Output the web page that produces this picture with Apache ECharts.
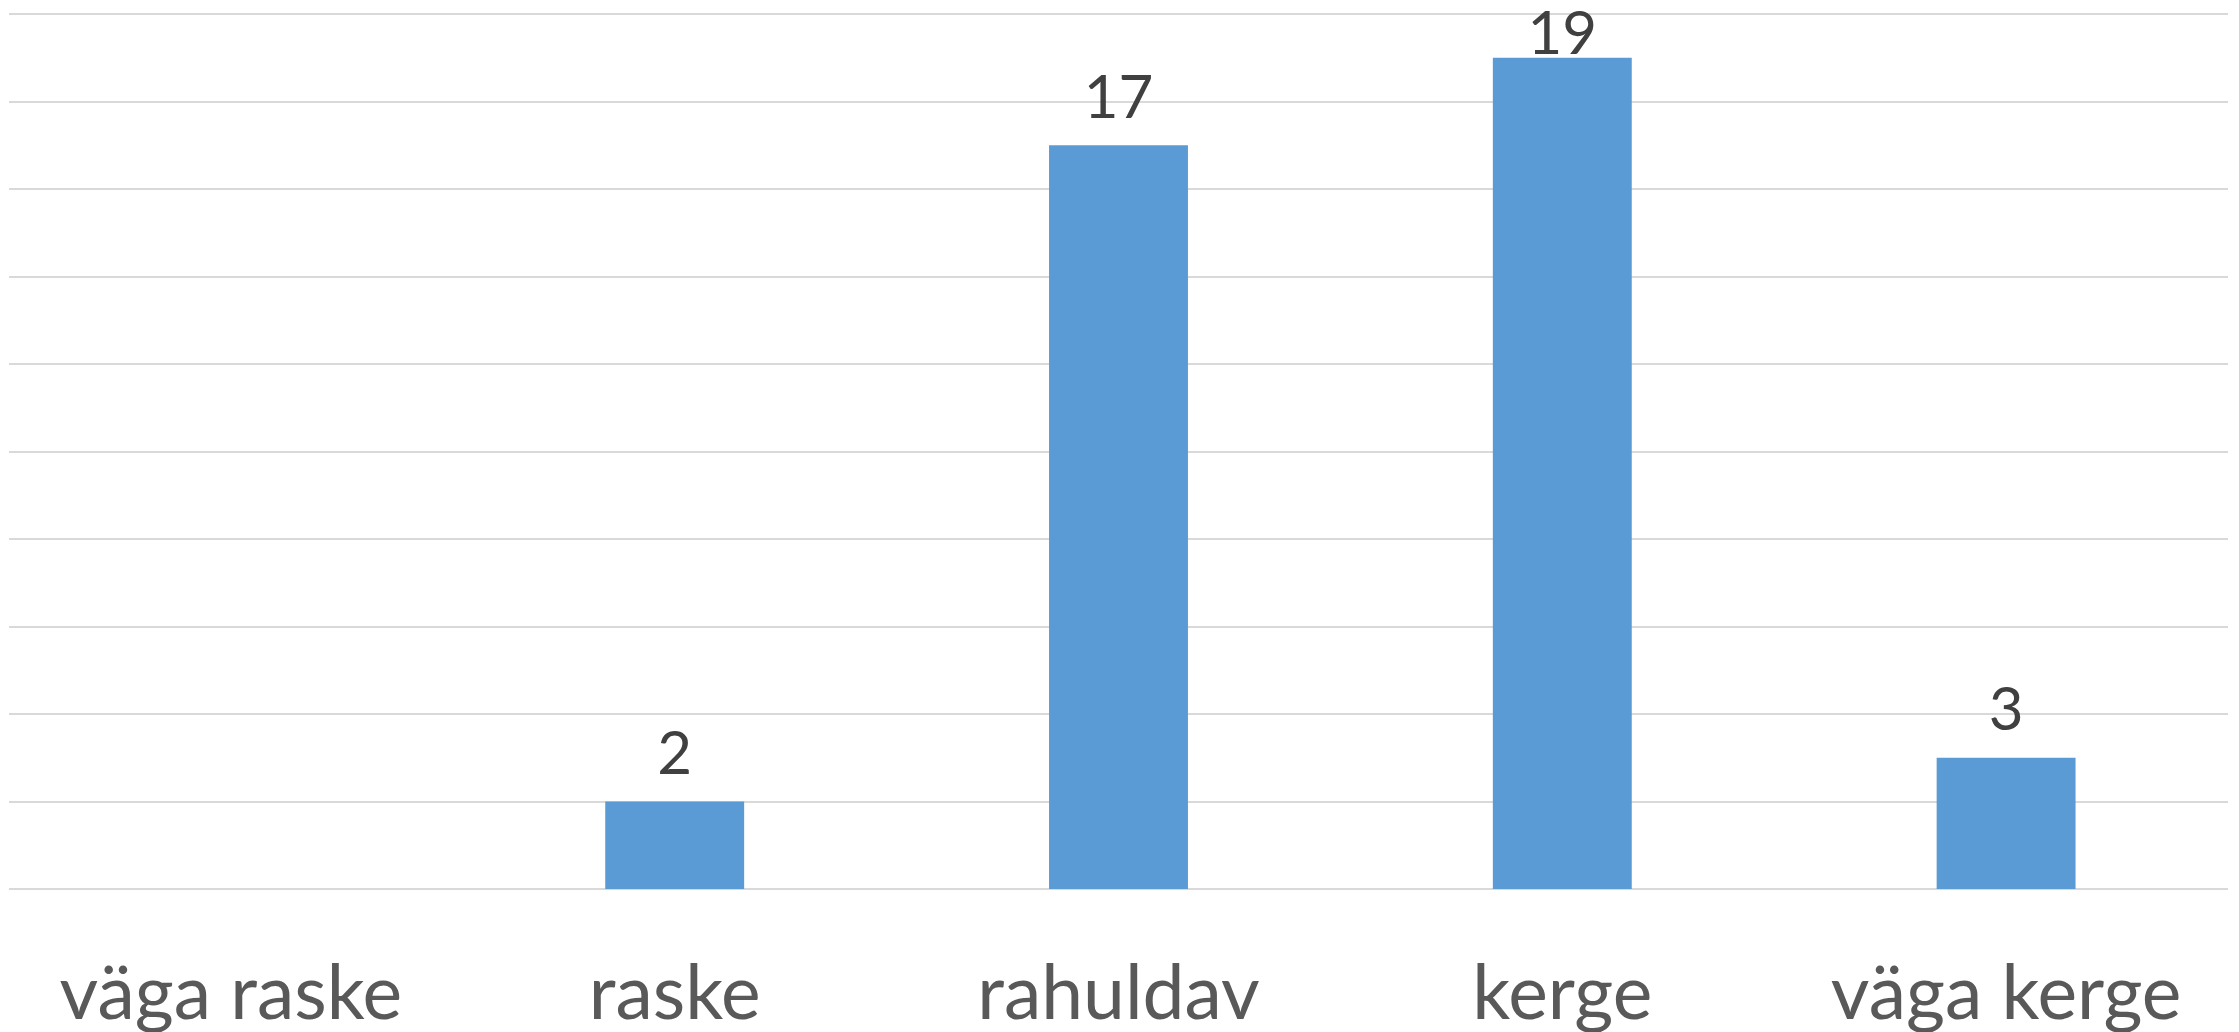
<!DOCTYPE html>
<html>
<head>
<meta charset="utf-8">
<script src="https://cdn.jsdelivr.net/npm/echarts@6/dist/echarts.min.js"></script>
<style>
  html, body { margin: 0; padding: 0; background: #fff; }
  #chart { width: 2239px; height: 1032px; }
</style>
</head>
<body>
<div id="chart"></div>
<script>
var categories = ["väga raske", "raske", "rahuldav", "kerge", "väga kerge"];
var counts = [0, 2, 17, 19, 3];
var yMin = 0;
var yMax = 20;
var yStep = 2;

// the tallest bar's label sits tight on the bar so it stays on the canvas
var topValue = Math.max.apply(null, counts);
var barData = counts.map(function (v) {
  if (v === topValue) {
    return { value: v, label: { distance: -7 } };
  }
  return v;
});

var myChart = echarts.init(document.getElementById("chart"));
var option = {
  animation: false,
  grid: { left: 9, right: 11, top: 14, bottom: 143 },
  xAxis: {
    type: "category",
    data: categories,
    axisLine: { show: false },
    axisTick: { show: false },
    axisLabel: {
      interval: 0,
      margin: 68,
      fontFamily: "Lato",
      fontSize: 75,
      color: "#595959",
    },
  },
  yAxis: {
    type: "value",
    min: yMin,
    max: yMax,
    interval: yStep,
    axisLabel: { show: false },
    axisLine: { show: false },
    axisTick: { show: false },
    splitLine: { lineStyle: { color: "#d9d9d9", width: 2 } },
  },
  series: [
    {
      type: "bar",
      data: barData,
      barWidth: "31.3%",
      itemStyle: { color: "#5b9bd5" },
      label: {
        show: true,
        position: "top",
        distance: 17,
        fontFamily: "Lato",
        fontSize: 60,
        color: "#404040",
        formatter: function (d) {
          return d.value === 0 ? "" : d.value;
        },
      },
    },
  ],
};
myChart.setOption(option, true);
</script>
</body>
</html>
